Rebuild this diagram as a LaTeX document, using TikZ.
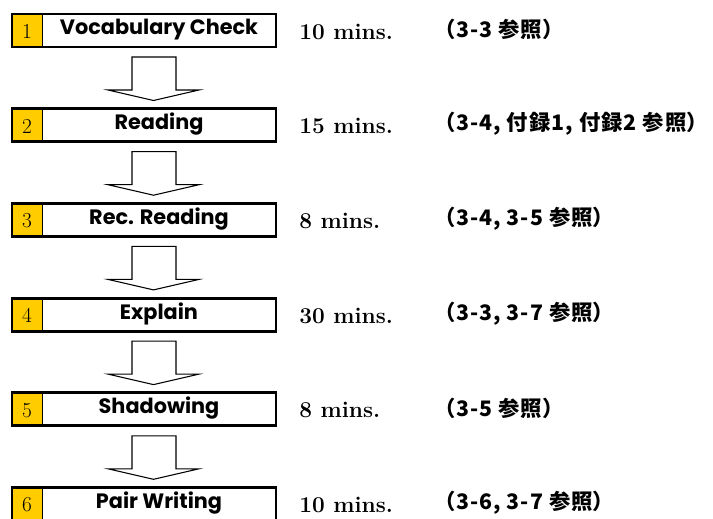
\documentclass[tikz,border=0pt]{standalone}
\usepackage{fontspec}
\newfontfamily\comic{Poppins}
\newfontfamily\jp{Noto Sans CJK JP}[LetterSpace=5,RawFeature={+palt}]
\definecolor{stepyellow}{HTML}{FFCC00}
\begin{document}
\begin{tikzpicture}[x=0.75pt,y=-0.75pt,
  stepframe/.style={draw=black,line width=2.2pt},
  flowarrow/.style={draw=black,fill=white,line width=0.8pt,line join=miter},
  numtext/.style={font=\fontsize{16}{16}\selectfont, inner sep=0pt},
  labeltext/.style={font=\comic\bfseries\fontsize{15.6}{16}\selectfont, inner sep=0pt},
  timetext/.style={font=\bfseries\fontsize{17}{17}\selectfont, anchor=west, inner sep=0pt},
  reftext/.style={font=\jp\bfseries\fontsize{16}{17}\selectfont, anchor=west, inner sep=0pt}]
\useasboundingbox (0,0) rectangle (713,518);
\clip (0,0) rectangle (713,518);
\foreach \i/\lab/\tm/\rf in {
  1/{Vocabulary Check}/{10 mins.}/{（3-3 参照）},
  2/{Reading}/{15 mins.}/{（3-4, 付録1, 付録2 参照）},
  3/{Rec. Reading}/{8 mins.}/{（3-4, 3-5 参照）},
  4/{Explain}/{30 mins.}/{（3-3, 3-7 参照）},
  5/{Shadowing}/{8 mins.}/{（3-5 参照）},
  6/{Pair Writing}/{10 mins.}/{（3-6, 3-7 参照）}} {
  \pgfmathsetmacro{\top}{14+94.7*(\i-1)}
  \pgfmathsetmacro{\bot}{\top+33}
  \pgfmathsetmacro{\mid}{\top+16.5}
  \fill[stepyellow] (12,\top) rectangle (42,\bot);
  \draw[line width=0.6pt] (42,\top) -- (42,\bot);
  \draw[stepframe] (12,\top) rectangle (276,\bot);
  \node[numtext] (n\i) at (27,\mid+1) {\i};
  \node[labeltext] (l\i) at (159,\mid-1) {\lab};
  \node[timetext] (t\i) at (299,\mid+1) {\tm};
  \node[reftext] (r\i) at (444,\mid-1) {\rf};
}
\foreach \i in {1,...,5} {
  \pgfmathsetmacro{\a}{14+94.7*(\i-1)+43}
  \draw[flowarrow] (132,\a) -- (176,\a) -- (176,\a+33) -- (199,\a+33) -- (153.5,\a+43.5) -- (108,\a+33) -- (132,\a+33) -- cycle;
}
\end{tikzpicture}
\end{document}
